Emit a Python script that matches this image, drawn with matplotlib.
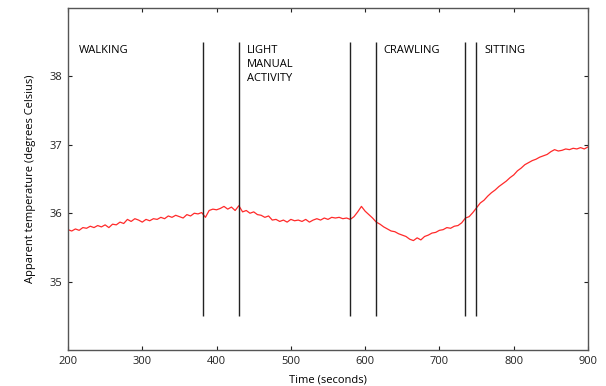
import matplotlib
matplotlib.use('Agg')
import matplotlib.pyplot as plt
import numpy as np

time_s = np.arange(200, 905, 5)
temp_c = [
    35.76, 35.74, 35.77, 35.75, 35.79, 35.78, 35.81, 35.79, 35.82, 35.80,
    35.83, 35.79, 35.84, 35.83, 35.87, 35.85, 35.91, 35.88, 35.92, 35.90,
    35.87, 35.91, 35.89, 35.92, 35.91, 35.94, 35.92, 35.96, 35.94, 35.97,
    35.95, 35.93, 35.98, 35.96, 36.00, 35.99, 36.01, 35.94, 36.04, 36.06,
    36.05, 36.07, 36.10, 36.06, 36.09, 36.04, 36.11, 36.02, 36.04, 36.00,
    36.02, 35.98, 35.97, 35.94, 35.96, 35.90, 35.91, 35.88, 35.90, 35.87,
    35.91, 35.89, 35.90, 35.88, 35.91, 35.87, 35.90, 35.92, 35.90, 35.93,
    35.91, 35.94, 35.93, 35.94, 35.92, 35.93, 35.91, 35.95, 36.02, 36.10,
    36.03, 35.98, 35.93, 35.87, 35.84, 35.80, 35.77, 35.74, 35.73, 35.70,
    35.68, 35.66, 35.62, 35.60, 35.64, 35.61, 35.66, 35.68, 35.71, 35.72,
    35.75, 35.76, 35.79, 35.78, 35.81, 35.82, 35.86, 35.93, 35.95, 36.01,
    36.08, 36.15, 36.19, 36.25, 36.30, 36.34, 36.39, 36.43, 36.47, 36.52,
    36.56, 36.62, 36.66, 36.71, 36.74, 36.77, 36.79, 36.82, 36.84, 36.86,
    36.90, 36.93, 36.91, 36.92, 36.94, 36.93, 36.95, 36.94, 36.96, 36.94,
    36.97,
]

# activity boundaries (seconds)
boundaries = [382, 430, 580, 615, 735, 749]
activities = ['WALKING', 'LIGHT\nMANUAL\nACTIVITY', 'CRAWLING', 'SITTING']
activity_x = [215, 441, 625, 761]

plt.rcParams['font.family'] = ['Open Sans', 'DejaVu Sans']

fig = plt.figure(figsize=(6.06, 3.86), dpi=100)
ax = fig.add_axes([0.1122, 0.0933, 0.8581, 0.8857])

ax.plot(time_s, temp_c, color='#ff2a2a', lw=0.9)
ax.vlines(boundaries, 34.5, 38.5, color='#222222', lw=1.0)

for label, x in zip(activities, activity_x):
    ax.text(x, 38.46, label, fontsize=8, va='top', ha='left',
            linespacing=1.35, color='black')

ax.set_xlim(200, 900)
ax.set_ylim(34, 39)
ax.set_xticks(range(200, 901, 100))
ax.set_yticks([35, 36, 37, 38])
ax.tick_params(direction='in', length=3, width=0.8, top=True, right=True,
               labelsize=8, colors='#222222', pad=4)
for sp in ax.spines.values():
    sp.set_color('#555555')
    sp.set_linewidth(1.0)

ax.set_xlabel('Time (seconds)', fontsize=8, labelpad=6)
ax.set_ylabel('Apparent temperature (degrees Celsius)', fontsize=8, labelpad=10)

plt.savefig('out.png', dpi=100)
